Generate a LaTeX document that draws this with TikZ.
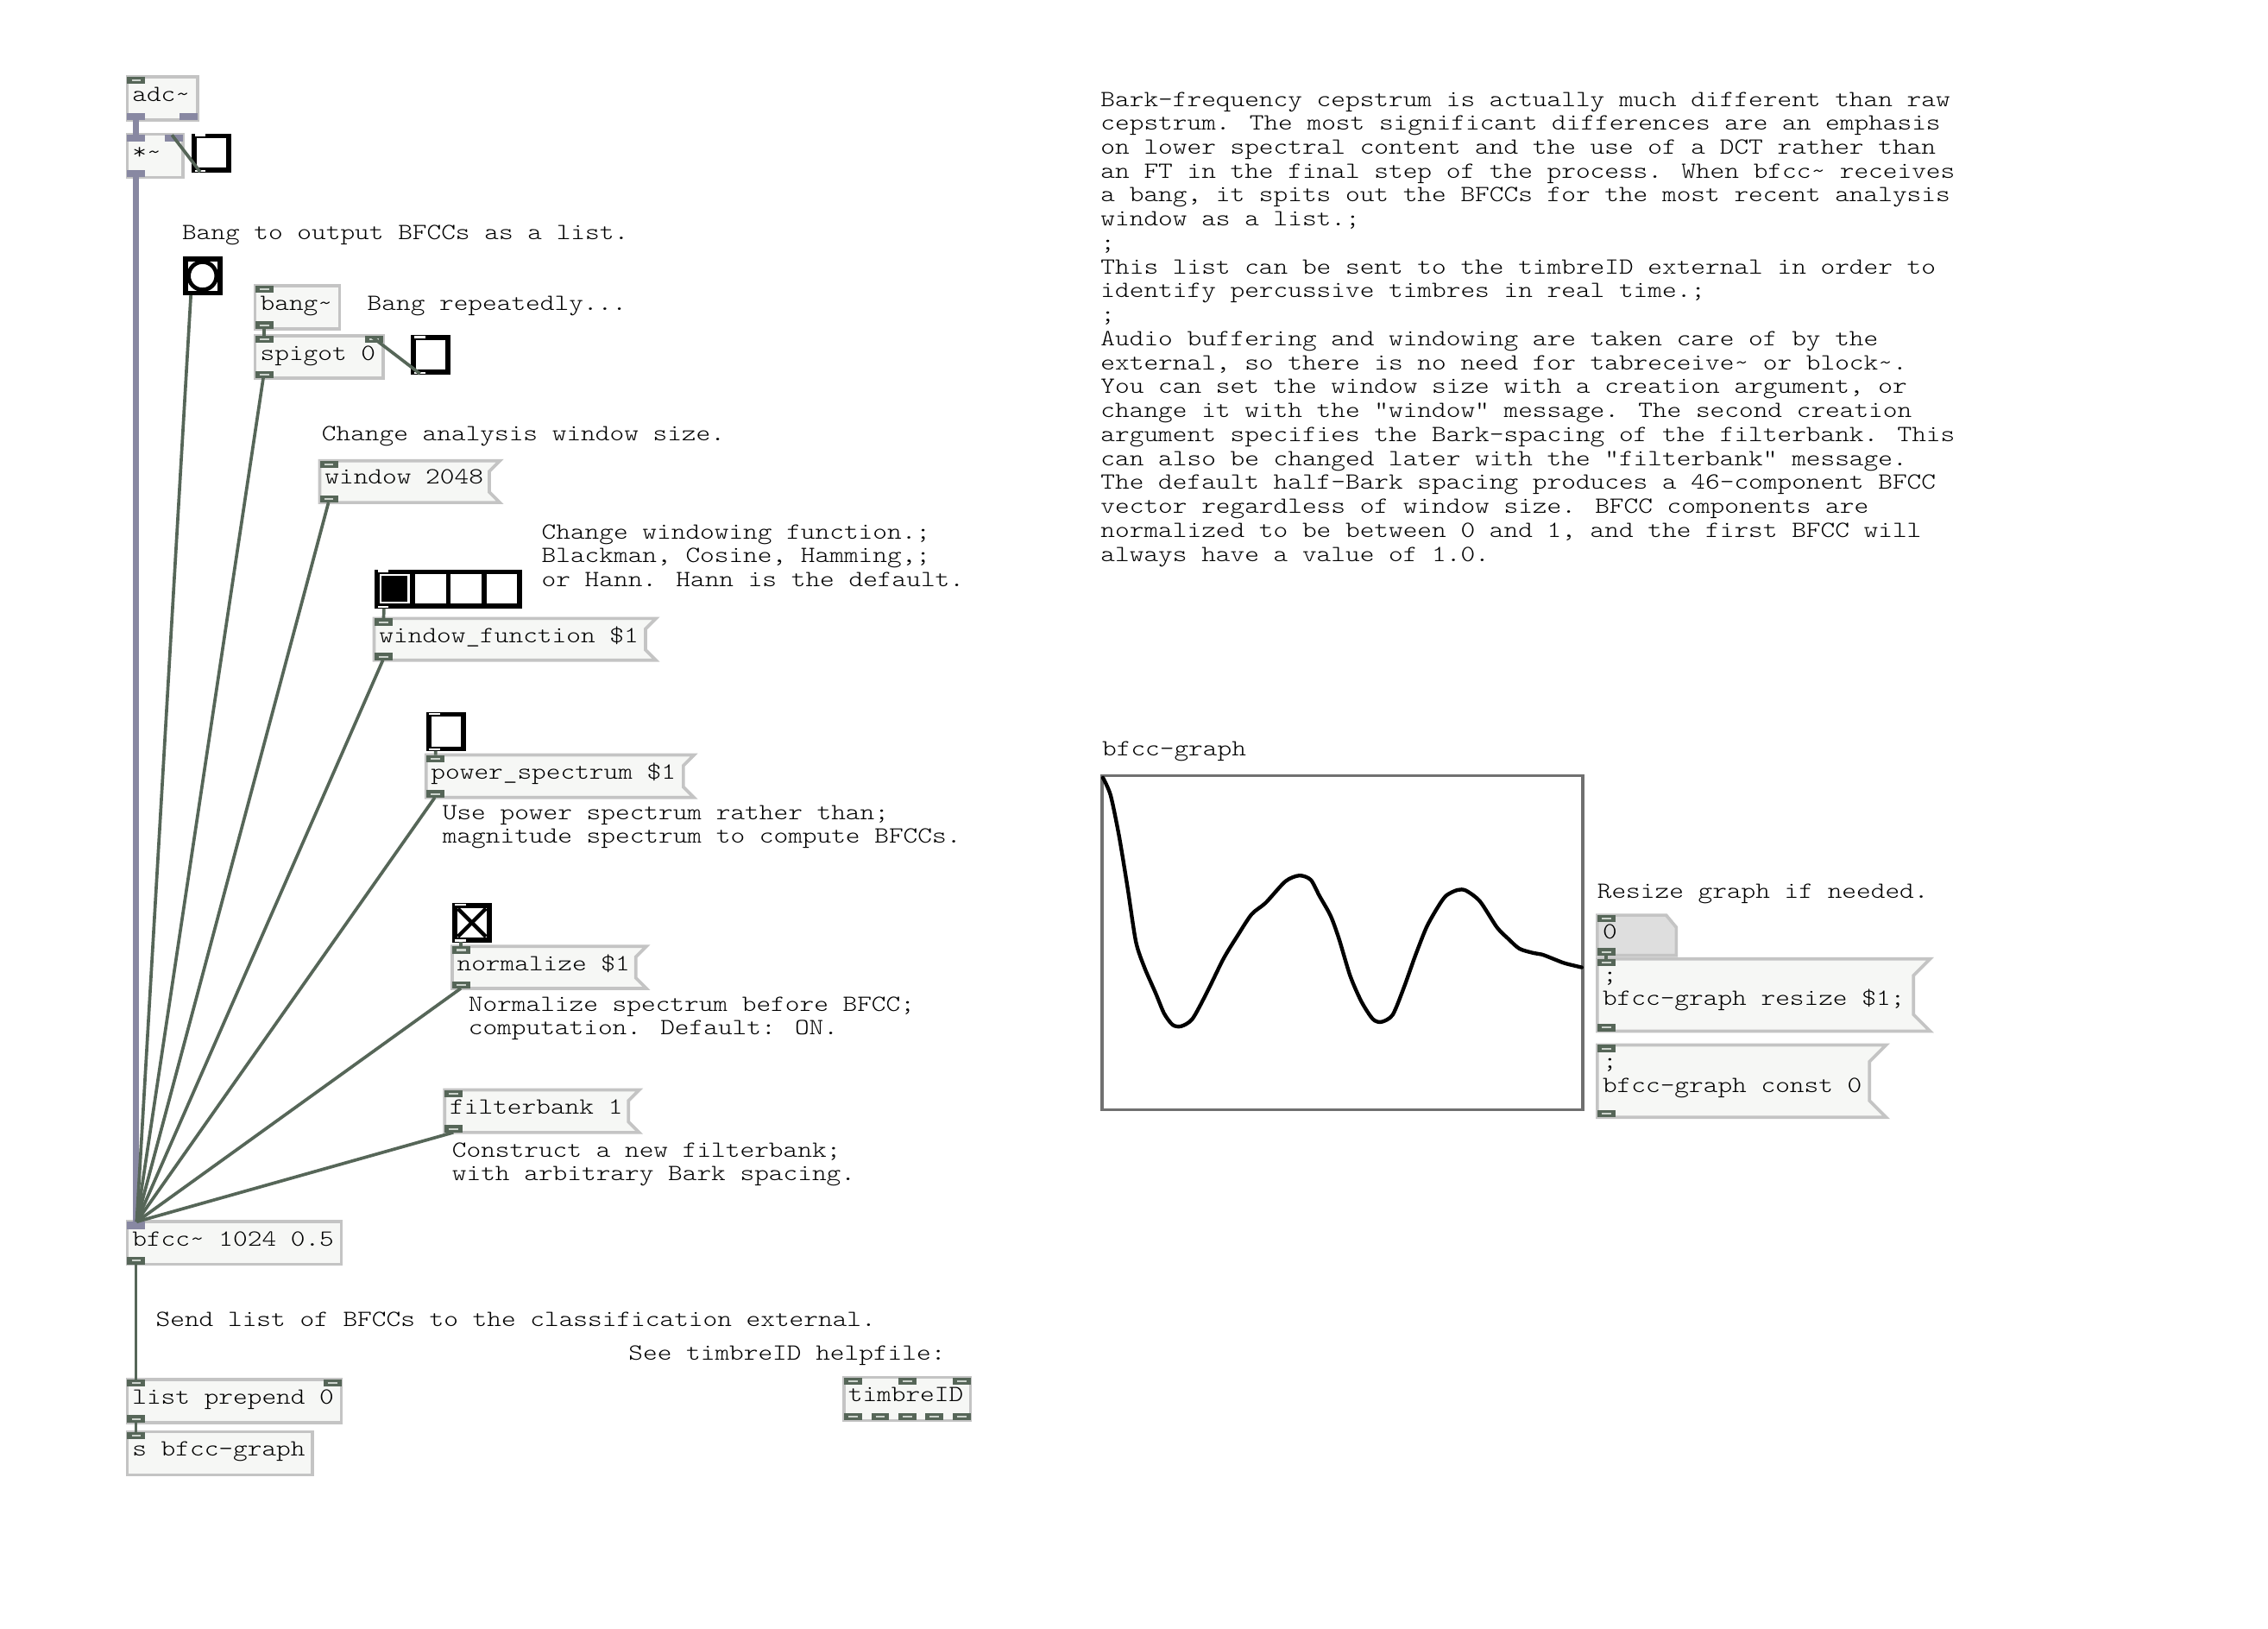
\documentclass[tikz,border=0pt]{standalone}
\usepackage{fontspec}
\newfontfamily\pdfont[FakeStretch=1.185]{lmmonolt10-regular.otf}
\usetikzlibrary{calc}
\definecolor{wirec}{RGB}{86,102,88}
\definecolor{sigc}{RGB}{136,136,162}
\definecolor{boxbd}{RGB}{196,196,196}
\definecolor{boxfill}{RGB}{246,247,245}
\definecolor{nbxfill}{RGB}{222,222,222}
\definecolor{portln}{RGB}{205,212,205}
\definecolor{graphbd}{RGB}{112,112,112}
\tikzset{
 pdtext/.style={font=\pdfont\fontsize{16}{16.55}\selectfont, inner sep=0pt, outer sep=0pt, anchor=base west},
 objbox/.style={draw=boxbd, fill=boxfill, line width=2.2pt, inner sep=0pt, outer sep=0pt, anchor=north west},
 holder/.style={inner sep=0pt, outer sep=0pt, anchor=north west},
 gui/.style={draw=black, fill=white, line width=3.5pt, inner sep=0pt, outer sep=0pt, anchor=north west},
 ctlwire/.style={draw=wirec, line width=2.2pt},
 sigwire/.style={draw=sigc, line width=4pt},
}
\newcommand\pdobj[5]{\node[objbox, minimum width={#4-#2}, minimum height={#5-#3}] (#1) at (#2,#3) {};}
\newcommand\pdmsg[5]{\node[holder, minimum width={#4-#2}, minimum height={#5-#3}] (#1) at (#2,#3) {};
 \pgfmathsetmacro\msgc{min(11.5,(#5-#3)/4)}
 \draw[draw=boxbd, fill=boxfill, line width=2.2pt] (#1.north west) -- (#1.north east) -- ($(#1.north east)+(-\msgc,\msgc)$) -- ($(#1.south east)+(-\msgc,-\msgc)$) -- (#1.south east) -- (#1.south west) -- cycle;}
\newcommand\cinl[2]{\fill[wirec] ($(#1.north west)+(#2,0)$) rectangle ++(12.5,5); \draw[portln, line width=1.2pt] ($(#1.north west)+(#2+3,2.5)$) -- ++(6.5,0);}
\newcommand\coutl[2]{\fill[wirec] ($(#1.south west)+(#2,-5)$) rectangle ++(12.5,5); \draw[portln, line width=1.2pt] ($(#1.south west)+(#2+3,-2.5)$) -- ++(6.5,0);}
\newcommand\sinl[2]{\fill[sigc] ($(#1.north west)+(#2,0)$) rectangle ++(12.5,5);}
\newcommand\soutl[2]{\fill[sigc] ($(#1.south west)+(#2,-5)$) rectangle ++(12.5,5);}
\newcommand\pdtgl[3]{\node[gui, minimum size=23.8pt] (#1) at ({#2+1.75},{#3+1.75}) {};
 \fill[white] ($(#1.north west)+(0.3,-1.2)$) rectangle ++(7.5,1.4);
 \fill[white] ($(#1.south west)+(0.3,1.2)$) rectangle ++(7.5,-1.4);}
\begin{document}
\begin{tikzpicture}[x=1pt,y=-1pt]
\useasboundingbox (0,0) rectangle (1568,1125.3);
\fill[white] (0,0) rectangle (1568,1125.3);

% ---------- objects ----------
\pdobj{adc}{88}{53}{136.6}{82.9}
\cinl{adc}{0} \soutl{adc}{0} \soutl{adc}{36.1}
\node[pdtext] (adct) at (91.5,70) {adc\textasciitilde};

\pdobj{mul}{88}{92.8}{126.4}{122.6}
\sinl{mul}{0} \sinl{mul}{25.9} \soutl{mul}{0}
\node[pdtext] (mult) at (91.5,110) {*\textasciitilde};

\pdtgl{tg1}{132.6}{92.2}

\node[pdtext] (c1) at (125.9,165.7) {Bang to output BFCCs as a list.};
\node[gui, minimum size=23.8pt] (bng) at (128.15,178.75) {};
\draw[black, line width=2.8pt, fill=white] (bng.center) circle (9.6);

\pdobj{bangt}{176.4}{197.4}{234.8}{227.2}
\cinl{bangt}{0} \coutl{bangt}{0}
\node[pdtext] (bangtt) at (180,214.3) {bang\textasciitilde};
\node[pdtext] (c2) at (254,214.3) {Bang repeatedly...};

\pdobj{spig}{176.4}{232.1}{264.8}{261.3}
\cinl{spig}{0} \cinl{spig}{75.9} \coutl{spig}{0}
\node[pdtext] (spigt) at (180,249) {spigot 0};
\pdtgl{tg2}{284.3}{231.7}

\node[pdtext] (c3) at (222.5,304.6) {Change analysis window size.};
\pdmsg{mw}{221.1}{318.5}{345.5}{347.3}
\cinl{mw}{0} \coutl{mw}{0}
\node[pdtext] (mwt) at (224.6,334.5) {window 2048};

\node[pdtext] (c4a) at (374.5,372.5) {Change windowing function.;};
\node[pdtext] (c4b) at (374.5,389) {Blackman, Cosine, Hamming,;};
\node[pdtext] (c4c) at (374.5,405.5) {or Hann. Hann is the default.};

\node[gui, minimum width=98.2pt, minimum height=23.7pt] (hr) at (260.85,395.25) {};
\foreach \k in {1,2,3} \draw[black, line width=3.5pt] ($(hr.north west)+({\k*24.55},0)$) -- ($(hr.south west)+({\k*24.55},0)$);
\fill[black] ($(hr.north west)+(2.8,2.6)$) rectangle ++(18,17.8);
\fill[white] ($(hr.north west)+(0.3,-1.2)$) rectangle ++(7.5,1.4);
\fill[white] ($(hr.south west)+(0.3,1.2)$) rectangle ++(7.5,-1.4);

\pdmsg{mwf}{258.7}{427.4}{453.5}{456.3}
\cinl{mwf}{0} \coutl{mwf}{0}
\node[pdtext] (mwft) at (262.2,444) {window\_function \$1};

\pdtgl{tg3}{294.6}{492}
\pdmsg{mps}{294.6}{521.8}{479.8}{551.2}
\cinl{mps}{0} \coutl{mps}{0}
\node[pdtext] (mpst) at (298,538.4) {power\_spectrum \$1};
\node[pdtext] (c5a) at (306,566.4) {Use power spectrum rather than;};
\node[pdtext] (c5b) at (306,582.9) {magnitude spectrum to compute BFCCs.};

\pdtgl{tg4}{312.6}{624}
\draw[black, line width=2.6pt] ($(tg4.north west)+(2.2,2.2)$) -- ($(tg4.south east)+(-2.2,-2.2)$);
\draw[black, line width=2.6pt] ($(tg4.north east)+(-2.2,2.2)$) -- ($(tg4.south west)+(2.2,-2.2)$);
\pdmsg{mnorm}{312.6}{654.1}{446.8}{683.1}
\cinl{mnorm}{0} \coutl{mnorm}{0}
\node[pdtext] (mnormt) at (316,670.7) {normalize \$1};
\node[pdtext] (c6a) at (323.9,698.8) {Normalize spectrum before BFCC;};
\node[pdtext] (c6b) at (323.9,715.3) {computation. Default: ON.};

\pdmsg{mfb}{307.4}{753.3}{441.9}{782.7}
\cinl{mfb}{0} \coutl{mfb}{0}
\node[pdtext] (mfbt) at (311,770) {filterbank 1};
\node[pdtext] (c7a) at (312.6,799.5) {Construct a new filterbank;};
\node[pdtext] (c7b) at (312.6,816) {with arbitrary Bark spacing.};

\pdobj{bfcc}{88}{844.4}{236}{873.8}
\sinl{bfcc}{0} \coutl{bfcc}{0}
\node[pdtext] (bfcct) at (91.5,861.4) {bfcc\textasciitilde{} 1024 0.5};

\node[pdtext] (c8) at (107.8,916.6) {Send list of BFCCs to the classification external.};
\node[pdtext] (c9) at (434.6,940) {See timbreID helpfile:};

\pdobj{lp}{88}{953.3}{236}{983.1}
\cinl{lp}{0} \cinl{lp}{135.5} \coutl{lp}{0}
\node[pdtext] (lpt) at (91.5,970.2) {list prepend 0};

\pdobj{sg}{88}{989.6}{216}{1019.4}
\cinl{sg}{0}
\node[pdtext] (sgt) at (91.5,1006.5) {s bfcc-graph};

\pdobj{tid}{583.6}{952}{671}{981.7}
\cinl{tid}{0} \cinl{tid}{37.45} \cinl{tid}{74.9}
\coutl{tid}{0} \coutl{tid}{18.72} \coutl{tid}{37.45} \coutl{tid}{56.17} \coutl{tid}{74.9}
\node[pdtext] (tidt) at (586.4,968.5) {timbreID};

% ---------- right side ----------
\foreach \t [count=\i] in {
 {Bark-frequency cepstrum is actually much different than raw},
 {cepstrum. The most significant differences are an emphasis},
 {on lower spectral content and the use of a DCT rather than},
 {an FT in the final step of the process. When bfcc\textasciitilde{} receives},
 {a bang, it spits out the BFCCs for the most recent analysis},
 {window as a list.;},
 {;},
 {This list can be sent to the timbreID external in order to},
 {identify percussive timbres in real time.;},
 {;},
 {Audio buffering and windowing are taken care of by the},
 {external, so there is no need for tabreceive\textasciitilde{} or block\textasciitilde.},
 {You can set the window size with a creation argument, or},
 {change it with the "window" message. The second creation},
 {argument specifies the Bark-spacing of the filterbank. This},
 {can also be changed later with the "filterbank" message.},
 {The default half-Bark spacing produces a 46-component BFCC},
 {vector regardless of window size. BFCC components are},
 {normalized to be between 0 and 1, and the first BFCC will},
 {always have a value of 1.0.}}
 \node[pdtext] (rt\i) at (761,{73.4+16.55*(\i-1)}) {\t};

\node[pdtext] (glabel) at (762,522.5) {bfcc-graph};
\node[holder, draw=graphbd, fill=white, line width=2.2pt, minimum width=332.2pt, minimum height=231pt] (graph) at (762,536) {};
\draw[black, line width=2.6pt, line join=round, line cap=round] plot[smooth, tension=0.45] coordinates {
(762.5,537.5) (767.8,549.6) (773.6,577.4) (779.5,613.1) (785.3,650.8) (791.2,668.6)
(799.0,686.5) (804.8,700.4) (810.7,708.3) (816.5,709.3) (824.3,704.3) (834.1,686.5)
(845.8,662.7) (855.5,646.8) (865.3,631.9) (875.0,624.0) (888.7,609.1) (898.4,605.1)
(906.2,608.1) (912.1,619.0) (919.9,632.9) (925.7,648.8) (933.5,674.6) (941.3,692.4)
(949.1,704.3) (955.0,706.3) (962.8,701.4) (970.6,682.5) (978.4,660.7) (986.2,640.9)
(994.0,627.0) (999.8,619.0) (1007.6,615.1) (1013.5,615.5) (1023.2,623.0) (1034.9,640.9)
(1042.7,648.8) (1050.5,655.7) (1060.3,658.7) (1066.1,659.7) (1073.9,662.7) (1081.7,665.7)
(1093.5,668.6)};

\node[pdtext] (c10) at (1104.3,621) {Resize graph if needed.};
\node[holder, minimum width=54.6pt, minimum height=27.8pt] (nbx) at (1104.3,632.5) {};
\draw[draw=boxbd, fill=nbxfill, line width=2.2pt] (nbx.north west) -- ($(nbx.north east)+(-7,0)$) -- ($(nbx.north east)+(0,8.4)$) -- (nbx.south east) -- (nbx.south west) -- cycle;
\cinl{nbx}{0} \coutl{nbx}{0}
\node[pdtext] (nbxt) at (1108,648.6) {0};

\pdmsg{mres}{1104.3}{662.7}{1334.4}{712.7}
\cinl{mres}{0} \coutl{mres}{0}
\node[pdtext] (mresa) at (1108,678.6) {;};
\node[pdtext] (mresb) at (1108,695) {bfcc-graph resize \$1;};

\pdmsg{mconst}{1104.3}{722.2}{1304}{772.2}
\cinl{mconst}{0} \coutl{mconst}{0}
\node[pdtext] (mconsta) at (1108,738.5) {;};
\node[pdtext] (mconstb) at (1108,755) {bfcc-graph const 0};

% ---------- connections ----------
\draw[sigwire] ($(adc.south west)+(5.9,0)$) -- ($(mul.north west)+(5.9,0)$);
\draw[sigwire] ($(mul.south west)+(5.9,0)$) -- ($(bfcc.north west)+(5.9,0)$);
\draw[ctlwire] ($(tg1.south west)+(4,1)$) -- ($(mul.north east)+(-7.5,0.5)$);
\draw[ctlwire] ($(bng.south west)+(3.8,1.5)$) -- ($(bfcc.north west)+(6.5,0)$);
\draw[ctlwire] ($(bangt.south west)+(6,0)$) -- ($(spig.north west)+(6,0)$);
\draw[ctlwire] ($(spig.south west)+(5.6,0)$) -- ($(bfcc.north west)+(6.5,0)$);
\draw[ctlwire] ($(tg2.south west)+(4.3,1)$) -- ($(spig.north east)+(-7.3,1)$);
\draw[ctlwire] ($(mw.south west)+(6,0)$) -- ($(bfcc.north west)+(6.5,0)$);
\draw[ctlwire] ($(hr.south west)+(4.6,1.5)$) -- ($(mwf.north west)+(6.5,0)$);
\draw[ctlwire] ($(mwf.south west)+(6,0)$) -- ($(bfcc.north west)+(6.5,0)$);
\draw[ctlwire] ($(tg3.south west)+(4.8,1.5)$) -- ($(mps.north west)+(6.5,0)$);
\draw[ctlwire] ($(mps.south west)+(6,0)$) -- ($(bfcc.north west)+(6.5,0)$);
\draw[ctlwire] ($(tg4.south west)+(4.3,1.5)$) -- ($(mnorm.north west)+(6,0)$);
\draw[ctlwire] ($(mnorm.south west)+(6,0)$) -- ($(bfcc.north west)+(6.5,0)$);
\draw[ctlwire] ($(mfb.south west)+(6,0)$) -- ($(bfcc.north west)+(6.5,0)$);
\draw[ctlwire] ($(bfcc.south west)+(5.9,0)$) -- ($(lp.north west)+(5.9,0)$);
\draw[ctlwire] ($(lp.south west)+(5.9,0)$) -- ($(sg.north west)+(5.9,0)$);
\draw[ctlwire] ($(nbx.south west)+(5.9,0)$) -- ($(mres.north west)+(5.9,0)$);
\end{tikzpicture}
\end{document}
